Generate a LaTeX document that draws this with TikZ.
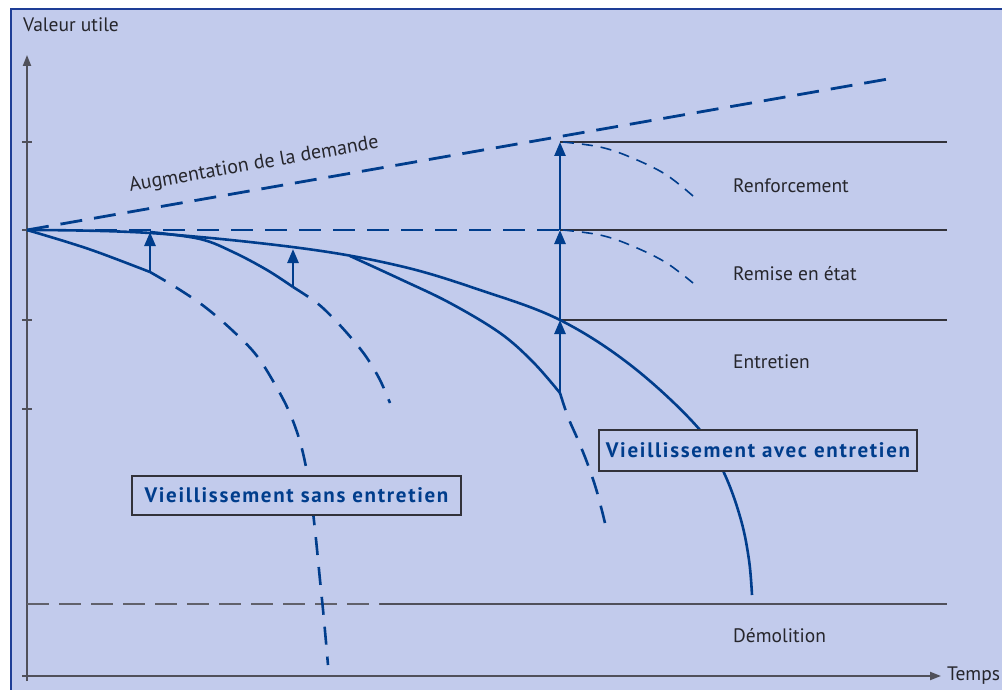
\documentclass[tikz,border=0pt]{standalone}
\usepackage{fontspec}
\setmainfont{PT Sans}
\usetikzlibrary{arrows.meta}
\definecolor{bgblue}{RGB}{194,203,236}
\definecolor{lineblue}{RGB}{0,61,140}
\definecolor{frameblue}{RGB}{30,62,150}
\definecolor{axisgray}{RGB}{80,80,90}
\definecolor{darkline}{RGB}{50,50,58}
\definecolor{txt}{RGB}{38,38,44}
\begin{document}
\begin{tikzpicture}[x=1pt,y=-1pt,
  frameline/.style={frameblue,line width=2pt},
  axisline/.style={axisgray,line width=2pt,-{Triangle[length=11pt,width=8pt]}},
  tickline/.style={axisgray,line width=1.5pt},
  hline/.style={darkline,line width=1.5pt},
  graydash/.style={axisgray!90,line width=1.8pt,dash pattern=on 22pt off 10pt},
  bluesolid/.style={lineblue,line width=2.6pt,line join=round},
  bluedash/.style={lineblue,line width=2.8pt,dash pattern=on 22pt off 12pt},
  curvedash/.style={lineblue,line width=2.6pt,dash pattern=on 18pt off 12pt},
  thindash/.style={lineblue,line width=1.6pt,dash pattern=on 11pt off 8pt},
  uparrow/.style={lineblue,line width=2.6pt,-{Triangle[length=14pt,width=11pt]}},
  labeltext/.style={txt,font=\fontsize{19.5}{22}\selectfont,inner sep=0pt,anchor=base west},
  labelbox/.style={draw=darkline,line width=1.5pt,fill=bgblue,inner sep=0pt,
    text=lineblue,font=\fontsize{21}{24}\selectfont\bfseries\addfontfeatures{LetterSpace=8}}
]
\useasboundingbox (0,0) rectangle (1002,690);
\fill[white] (0,0) rectangle (1002,690);
\fill[bgblue] (11,9) rectangle (1002,690);
\draw[frameline] (11,692) -- (11,9) -- (1004,9);

% named points
\coordinate (O) at (27,230);
\coordinate (yb) at (27,681);
\coordinate (yt) at (27,55);
\coordinate (xl) at (22,676);
\coordinate (xr) at (941,676);
\coordinate (A1b) at (150,272);
\coordinate (A1t) at (150,232);
\coordinate (A2b) at (293,287);
\coordinate (A2t) at (293,249);
\coordinate (A3b) at (560,393);
\coordinate (E) at (560,320);
\coordinate (R) at (560,230);
\coordinate (F) at (560,142);
\coordinate (Ee) at (947,320);
\coordinate (Re) at (947,230);
\coordinate (Fe) at (947,142);
\coordinate (D) at (888,79);
\coordinate (Dm0) at (27,604);
\coordinate (Dm1) at (380,604);
\coordinate (Dm2) at (947,604);

% axes
\draw[axisline] (yb) -- (yt);
\draw[axisline] (xl) -- (xr);
\foreach \yy in {142,230,320,409} \draw[tickline] (22,\yy) -- (32,\yy);

% horizontal level lines
\draw[hline] (F) -- (Fe);
\draw[hline] (R) -- (Re);
\draw[hline] (E) -- (Ee);
\draw[graydash] (Dm0) -- (Dm1);
\draw[hline,axisgray] (Dm1) -- (Dm2);

% demand and reference dashed lines
\draw[bluedash] (O) -- (D);
\draw[bluedash] (O) -- (R);

% main curve (ageing with maintenance)
\draw[bluesolid] plot[smooth,tension=0.6] coordinates {(27,230) (150,233) (300,248) (400,266) (480,290) (560,320) (633,367) (700,430) (725,475) (741,520) (749,560) (752,595)};

% saw-tooth curves
\draw[bluesolid] plot[smooth,tension=0.6] coordinates {(27,230) (67,242) (100,253) (150,272)};
\draw[bluesolid] plot[smooth,tension=0.6] coordinates {(150,232) (200,239) (233,252) (267,270) (293,287)};
\draw[bluesolid] plot[smooth,tension=0.6] coordinates {(350,256) (400,279) (450,303) (500,333) (533,362) (560,393)};

% dashed continuations
\draw[curvedash] plot[smooth,tension=0.6] coordinates {(150,272) (177,288) (205,307) (233,331) (257,356) (277,388) (291,416) (302,449) (310,490) (315,530) (320,580) (324,620) (328,665)};
\draw[curvedash] plot[smooth,tension=0.6] coordinates {(293,287) (317,303) (335,320) (353,340) (367,358) (380,380) (390,403)};
\draw[curvedash] plot[smooth,tension=0.6] coordinates {(560,393) (568,417) (578,440) (588,465) (597,492) (605,523)};

% thin dashed curves
\draw[thindash] plot[smooth,tension=0.6] coordinates {(563,230) (600,235) (630,245) (665,262) (693,283)};
\draw[thindash] plot[smooth,tension=0.6] coordinates {(563,142) (600,147) (630,157) (665,174) (693,196)};

% arrows
\draw[uparrow] (A1b) -- (A1t);
\draw[uparrow] (A2b) -- (A2t);
\draw[uparrow] (A3b) -- (E);
\draw[uparrow] (E) -- (R);
\draw[uparrow] (R) -- (F);

% boxes
\node[labelbox,minimum width=329pt,minimum height=39pt] (sans) at (296.5,495.5) {Vieillissement sans entretien};
\node[labelbox,minimum width=318pt,minimum height=41pt] (avec) at (758,450.5) {Vieillissement avec entretien};

% labels
\node[labeltext] (vu) at (23,32) {Valeur utile};
\node[labeltext] (temps) at (947,680) {Temps};
\node[labeltext] (renf) at (733,193) {Renforcement};
\node[labeltext] (rem) at (733,280) {Remise en état};
\node[labeltext] (entr) at (733,368) {Entretien};
\node[labeltext] (demo) at (733,642) {Démolition};
\node[txt,font=\fontsize{20}{24}\selectfont,inner sep=0pt,rotate=10] (aug) at (254,165) {Augmentation de la demande};
\end{tikzpicture}
\end{document}
